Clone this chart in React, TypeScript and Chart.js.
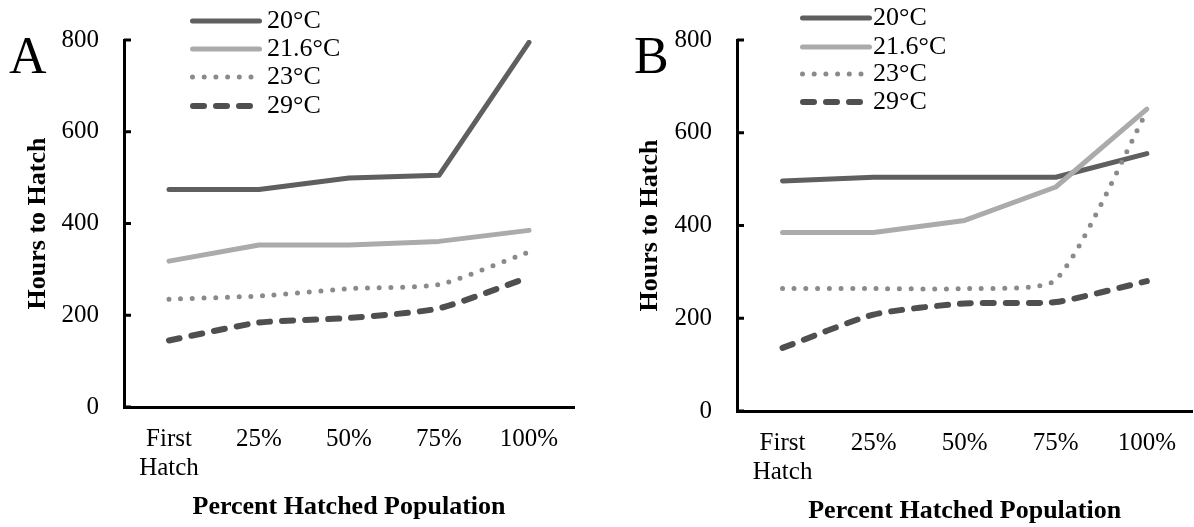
import React, { useEffect, useRef } from "react";
import { Chart, registerables } from "chart.js";

Chart.register(...registerables);

const FONT = "'Liberation Serif', 'Times New Roman', serif";

const categories: (string | string[])[] = [["First", "Hatch"], "25%", "50%", "75%", "100%"];
const seriesNames = ["20°C", "21.6°C", "23°C", "29°C"];
const yTickMin = 0;
const yTickMax = 800;
const yTickStep = 200;

const panelA_20 = [474, 474, 499, 505, 795];
const panelA_216 = [318, 353, 353, 361, 385];
const panelA_23 = [235, 242, 258, 267, 338];
const panelA_29 = [145, 184, 194, 215, 283];

const panelB_20 = [496, 504, 504, 504, 555];
const panelB_216 = [385, 385, 411, 483, 651];
const panelB_23 = [264, 264, 264, 283, 646];
const panelB_29 = [136, 208, 232, 235, 280];

const seriesStyles = [
  { color: "#5f5f5f", width: 5, dash: [] as number[], tension: 0, order: 3 },
  { color: "#ababab", width: 5, dash: [] as number[], tension: 0, order: 2 },
  { color: "#8a8a8a", width: 5, dash: [0, 11.7], tension: 0.2, order: 1 },
  { color: "#4f4f4f", width: 6, dash: [11, 12], tension: 0.2, order: 0 },
];

type PanelCfg = {
  letter: string;
  letterX: number;
  letterY: number;
  legendX1: number;
  legendX2: number;
  legendTextX: number;
  legendY: number[];
  padTop: number;
  padRight: number;
  yWidth: number;
  xHeight: number;
  yTitlePad: number;
  xTitlePad: number;
};

function makeChart(canvas: HTMLCanvasElement, series: number[][], cfg: PanelCfg) {
  const overlay = {
    id: "overlay" + cfg.letter,
    afterDraw(chart: any) {
      const ctx = chart.ctx as CanvasRenderingContext2D;
      ctx.save();
      // inward y tick marks
      const ys = chart.scales.y;
      const left = chart.chartArea.left;
      ctx.strokeStyle = "#000";
      ctx.lineWidth = 3;
      ctx.lineCap = "butt";
      ys.ticks.forEach((t: any) => {
        const py = ys.getPixelForValue(t.value);
        ctx.beginPath();
        ctx.moveTo(left, py);
        ctx.lineTo(left + 7, py);
        ctx.stroke();
      });
      // panel letter
      ctx.fillStyle = "#000";
      ctx.font = `52px ${FONT}`;
      ctx.textBaseline = "alphabetic";
      ctx.textAlign = "left";
      ctx.fillText(cfg.letter, cfg.letterX, cfg.letterY);
      // legend
      chart.data.datasets.forEach((ds: any, i: number) => {
        const y = cfg.legendY[i];
        const hw = ds.borderWidth / 2;
        ctx.beginPath();
        ctx.strokeStyle = ds.borderColor;
        ctx.lineWidth = ds.borderWidth;
        ctx.lineCap = "round";
        ctx.setLineDash(ds.borderDash || []);
        ctx.moveTo(cfg.legendX1 + hw, y);
        ctx.lineTo(cfg.legendX2 - hw, y);
        ctx.stroke();
        ctx.setLineDash([]);
        ctx.fillStyle = "#000";
        ctx.font = `26px ${FONT}`;
        ctx.textBaseline = "middle";
        ctx.fillText(ds.label, cfg.legendTextX, y);
      });
      ctx.restore();
    },
  };

  return new Chart(canvas, {
    type: "line",
    data: {
      labels: categories as any,
      datasets: series.map((vals, i) => ({
        label: seriesNames[i],
        data: vals,
        borderColor: seriesStyles[i].color,
        backgroundColor: seriesStyles[i].color,
        borderWidth: seriesStyles[i].width,
        borderDash: seriesStyles[i].dash,
        borderCapStyle: "round" as const,
        borderJoinStyle: "round" as const,
        tension: seriesStyles[i].tension,
        order: seriesStyles[i].order,
        pointRadius: 0,
        fill: false,
      })),
    },
    options: {
      responsive: false,
      animation: false,
      layout: { padding: { left: 0, top: cfg.padTop, right: cfg.padRight, bottom: 0 } },
      plugins: { legend: { display: false }, tooltip: { enabled: false } },
      scales: {
        x: {
          type: "category",
          offset: true,
          grid: { display: false, drawTicks: false },
          border: { display: true, color: "#000", width: 3 },
          ticks: {
            color: "#000",
            font: { family: FONT, size: 25, lineHeight: 1.15 },
            padding: 18,
            maxRotation: 0,
            autoSkip: false,
          },
          title: {
            display: true,
            text: "Percent Hatched Population",
            color: "#000",
            font: { family: FONT, size: 26, weight: "bold", lineHeight: 1.2 },
            padding: { top: 0, bottom: cfg.xTitlePad },
          },
          afterFit: (s: any) => {
            s.height = cfg.xHeight;
          },
        },
        y: {
          type: "linear",
          min: yTickMin,
          max: yTickMax,
          grid: { display: false, drawTicks: false },
          border: { display: true, color: "#000", width: 3 },
          ticks: {
            stepSize: yTickStep,
            color: "#000",
            font: { family: FONT, size: 25 },
            padding: 25,
          },
          title: {
            display: true,
            text: "Hours to Hatch",
            color: "#000",
            font: { family: FONT, size: 26, weight: "bold", lineHeight: 1.2 },
            padding: { top: cfg.yTitlePad, bottom: 0 },
          },
          afterFit: (s: any) => {
            s.width = cfg.yWidth;
          },
        },
      },
    } as any,
    plugins: [overlay],
  });
}

export default function App() {
  const refA = useRef<HTMLCanvasElement>(null);
  const refB = useRef<HTMLCanvasElement>(null);

  useEffect(() => {
    const a = makeChart(refA.current!, [panelA_20, panelA_216, panelA_23, panelA_29], {
      letter: "A",
      letterX: 9,
      letterY: 73,
      legendX1: 190,
      legendX2: 262,
      legendTextX: 267,
      legendY: [21, 49, 77, 106],
      padTop: 35,
      padRight: 23,
      yWidth: 124,
      xHeight: 120,
      yTitlePad: 22.4,
      xTitlePad: 4.4,
    });
    const b = makeChart(refB.current!, [panelB_20, panelB_216, panelB_23, panelB_29], {
      letter: "B",
      letterX: 37,
      letterY: 73,
      legendX1: 203,
      legendX2: 275,
      legendTextX: 276,
      legendY: [18, 47, 74, 102],
      padTop: 33,
      padRight: 0,
      yWidth: 140,
      xHeight: 116,
      yTitlePad: 37.4,
      xTitlePad: 0.4,
    });
    return () => {
      a.destroy();
      b.destroy();
    };
  }, []);

  return (
    <div style={{ position: "fixed", left: 0, top: 0, width: 1194, height: 527, background: "#fff" }}>
      <canvas ref={refA} width={597} height={527} style={{ position: "absolute", left: 0, top: 0 }} />
      <canvas ref={refB} width={597} height={527} style={{ position: "absolute", left: 597, top: 0 }} />
    </div>
  );
}
